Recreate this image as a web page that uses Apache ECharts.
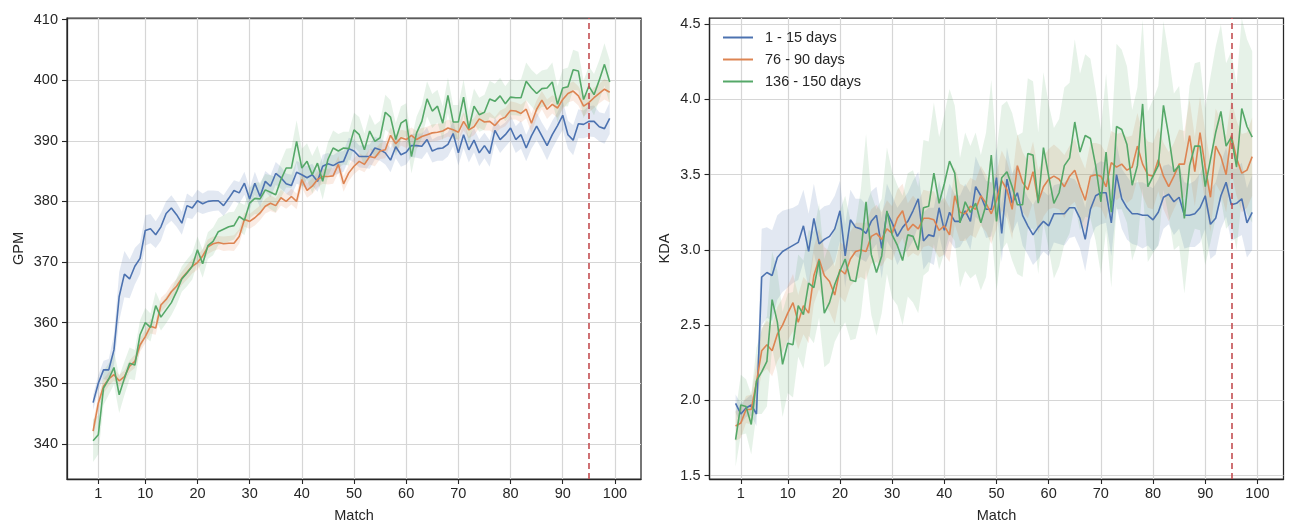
<!DOCTYPE html>
<html><head><meta charset="utf-8">
<script src="https://cdn.jsdelivr.net/npm/echarts@6/dist/echarts.min.js"></script>
<style>html,body{margin:0;padding:0;background:#fff}#c{width:1290px;height:521px}</style>
</head><body><div id="c"></div>
<script>
// ---------- data ----------
const seriesNames = ['1 - 15 days', '76 - 90 days', '136 - 150 days'];
const xTicks = [1, 10, 20, 30, 40, 50, 60, 70, 80, 90, 100];
const gpmTicks = [340, 350, 360, 370, 380, 390, 400, 410];
const kdaTicks = [1.5, 2.0, 2.5, 3.0, 3.5, 4.0, 4.5];
const cutoffMatch = 95;

const gpm_1_15 = [346.8,350.0,352.2,352.2,355.5,364.3,368.0,367.2,369.3,370.6,
375.2,375.5,374.5,375.8,378.0,378.9,377.8,376.4,379.3,378.9,
380.1,379.6,380.0,380.1,380.1,379.3,380.5,381.8,381.4,383.0,
380.4,383.0,380.8,383.3,382.5,384.6,383.9,382.9,382.6,384.8,
384.4,383.9,384.4,383.3,385.8,386.2,385.9,386.4,386.6,388.7,
388.3,387.4,387.4,387.4,388.8,388.5,388.0,386.8,389.0,387.7,
388.1,389.2,389.2,389.1,390.2,388.3,388.7,388.8,389.4,391.2,
388.0,391.0,388.5,390.1,388.0,389.2,387.9,391.7,390.2,391.0,
392.1,390.2,391.0,388.8,390.8,392.4,390.8,389.2,391.0,392.5,
394.2,391.0,390.1,392.8,392.7,393.2,393.2,392.3,392.0,393.7];
const gpm_76_90 = [342.1,346.7,349.5,350.7,351.4,350.4,351.1,352.8,353.6,356.3,
357.7,359.4,359.1,362.9,363.8,365.1,366.0,367.3,368.3,369.3,
369.9,371.0,372.5,373.0,373.2,373.0,373.1,373.1,374.2,377.0,
376.7,377.3,378.1,379.2,379.7,379.3,380.6,380.0,380.8,380.0,
383.6,381.8,382.5,383.6,384.1,384.1,384.2,386.1,382.9,384.7,
385.8,386.6,386.1,387.4,387.2,388.3,388.5,390.9,389.5,390.5,
390.2,390.9,390.2,390.7,391.0,391.3,391.4,391.6,392.1,391.8,
391.4,393.2,391.8,392.3,393.6,393.1,393.2,392.5,393.5,393.9,
395.0,394.9,394.5,395.2,392.9,395.2,396.7,395.2,396.0,395.4,
396.8,397.8,398.2,397.4,395.7,396.3,397.1,397.8,398.5,398.0];
const gpm_136_150 = [340.5,341.5,349.2,350.7,352.6,348.1,350.8,353.3,353.0,358.0,
360.0,359.2,362.8,360.9,362.1,363.3,365.1,367.2,368.2,369.3,
372.0,369.7,372.7,373.4,375.0,375.4,375.8,376.0,377.5,376.9,
379.7,380.5,380.4,381.9,381.5,381.1,383.6,385.5,385.5,389.9,
385.5,386.6,384.4,386.3,383.3,386.9,388.8,388.3,388.8,388.7,
391.8,391.0,388.5,391.6,389.9,390.5,394.7,393.9,390.2,392.9,
393.5,387.4,391.3,393.2,396.9,394.9,395.7,392.9,397.5,393.1,
393.1,397.2,392.0,395.7,394.3,394.7,396.9,396.5,397.4,396.1,
397.2,397.1,397.1,399.8,398.7,397.8,398.6,398.7,399.7,396.0,
398.7,398.9,401.7,401.5,396.8,399.0,397.6,400.0,402.6,399.7];

const gpmCi_1_15 = [1.2,1.3,1.5,1.8,2.5,4.0,3.8,3.2,3.0,2.6,
2.5,2.4,2.2,2.3,2.0,2.1,2.0,1.9,2.0,1.8,
1.8,1.7,1.8,1.7,1.6,1.7,1.8,1.7,1.8,1.9,
1.8,1.9,1.8,1.7,1.8,1.9,1.8,1.7,1.8,1.9,
1.8,1.9,1.8,1.7,1.9,1.8,1.7,1.8,1.7,1.8,
1.9,1.8,1.9,2.0,1.9,1.8,1.9,2.0,1.9,2.0,
2.0,1.9,2.0,2.1,2.0,1.9,2.0,2.1,2.0,2.1,
2.1,2.2,2.1,2.0,2.2,2.1,2.2,2.1,2.2,2.0,
2.1,2.2,2.3,2.2,2.1,2.3,2.2,2.4,2.3,2.2,
2.4,2.3,2.5,2.4,2.3,2.5,2.6,2.4,2.5,2.6];
const gpmCi_76_90 = [1.5,1.3,1.2,1.1,1.0,1.0,1.0,1.0,1.1,1.1,
1.1,1.2,1.1,1.2,1.1,1.2,1.2,1.1,1.2,1.2,
1.2,1.1,1.2,1.2,1.1,1.2,1.2,1.3,1.2,1.2,
1.2,1.3,1.2,1.2,1.3,1.2,1.3,1.2,1.3,1.3,
1.3,1.2,1.3,1.3,1.2,1.3,1.3,1.4,1.3,1.3,
1.3,1.4,1.3,1.3,1.4,1.3,1.4,1.3,1.4,1.3,
1.4,1.3,1.4,1.4,1.3,1.4,1.4,1.3,1.4,1.4,
1.4,1.5,1.4,1.4,1.5,1.4,1.5,1.4,1.5,1.5,
1.5,1.4,1.5,1.5,1.6,1.5,1.5,1.6,1.5,1.6,
1.6,1.5,1.6,1.6,1.7,1.6,1.7,1.6,1.7,1.7];
const gpmCi_136_150 = [3.5,3.2,2.8,2.6,2.8,3.0,2.8,2.6,2.5,2.4,
2.4,2.3,2.3,2.2,2.2,2.1,2.2,2.1,2.2,2.2,
2.2,2.3,2.2,2.3,2.2,2.3,2.4,2.3,2.4,2.5,
2.5,2.6,2.7,2.6,2.8,2.9,3.0,3.2,3.3,3.5,
3.2,3.0,3.1,2.9,3.0,2.8,2.9,2.8,2.7,2.8,
2.8,2.9,2.7,2.8,2.7,2.8,2.9,2.8,2.7,2.8,
2.7,2.8,2.7,2.8,2.9,2.8,2.7,2.8,2.9,2.8,
2.8,2.9,2.8,2.9,2.8,2.9,3.0,2.9,3.0,2.9,
3.0,2.9,3.0,3.1,3.0,3.1,3.0,3.1,3.2,3.0,
3.1,3.2,3.3,3.2,3.1,3.3,3.4,3.3,3.5,3.6];

const kda_1_15 = [1.98,1.91,1.95,1.97,1.91,2.82,2.85,2.83,2.95,2.99,
3.01,3.03,3.05,3.16,2.99,3.21,3.04,3.07,3.09,3.14,
3.26,2.96,3.20,3.15,3.14,3.11,3.19,3.23,3.01,3.25,
3.18,3.09,3.15,3.19,3.26,3.34,3.06,3.10,3.09,3.28,
3.13,3.25,3.19,3.19,3.26,3.19,3.42,3.36,3.27,3.27,
3.48,3.11,3.47,3.31,3.38,3.23,3.16,3.10,3.15,3.19,
3.16,3.24,3.24,3.24,3.28,3.28,3.21,3.07,3.27,3.36,
3.38,3.38,3.18,3.50,3.34,3.28,3.24,3.24,3.23,3.23,
3.20,3.25,3.35,3.37,3.32,3.35,3.23,3.23,3.24,3.28,
3.36,3.17,3.21,3.36,3.45,3.30,3.31,3.34,3.18,3.25];
const kda_76_90 = [1.83,1.85,1.94,1.94,2.12,2.33,2.37,2.33,2.44,2.50,
2.58,2.65,2.52,2.63,2.58,2.83,2.94,2.83,2.79,2.70,
2.87,2.84,2.94,2.99,3.00,2.99,3.09,3.11,3.07,3.14,
3.11,3.21,3.26,3.13,3.17,3.14,3.21,3.21,3.20,3.13,
3.16,3.10,3.36,3.25,3.24,3.29,3.27,3.36,3.31,3.24,
3.33,3.46,3.40,3.27,3.56,3.45,3.40,3.52,3.32,3.42,
3.47,3.49,3.47,3.42,3.49,3.53,3.42,3.33,3.49,3.50,
3.49,3.42,3.58,3.55,3.57,3.53,3.55,3.69,3.57,3.50,
3.49,3.60,3.49,3.42,3.49,3.57,3.57,3.76,3.52,3.78,
3.55,3.35,3.69,3.62,3.50,3.76,3.61,3.51,3.53,3.62];
const kda_136_150 = [1.74,1.97,1.96,1.84,2.13,2.19,2.26,2.67,2.52,2.24,
2.38,2.37,2.63,2.57,2.78,2.75,2.93,2.58,2.65,2.77,
2.86,2.94,2.80,2.79,2.98,3.32,2.97,2.85,2.96,3.26,
3.10,3.03,2.93,3.10,3.09,3.00,3.28,3.29,3.51,3.31,
3.44,3.59,3.51,3.18,3.32,3.25,3.31,3.18,3.30,3.63,
3.19,3.48,3.52,3.42,3.30,3.30,3.64,3.63,3.31,3.68,
3.49,3.31,3.38,3.56,3.61,3.85,3.65,3.76,3.74,3.56,
3.32,3.65,3.25,3.82,3.80,3.70,3.43,3.56,3.97,3.42,
3.49,3.56,3.96,3.76,3.52,3.56,3.21,3.56,3.69,3.69,
3.42,3.60,3.78,3.92,3.69,3.75,3.55,3.94,3.82,3.75];

const kdaCi_1_15 = [0.06,0.07,0.06,0.07,0.08,0.32,0.30,0.30,0.28,0.27,
0.26,0.25,0.25,0.24,0.25,0.23,0.22,0.22,0.21,0.22,
0.20,0.21,0.20,0.19,0.20,0.19,0.20,0.19,0.20,0.19,
0.18,0.19,0.18,0.19,0.20,0.18,0.19,0.18,0.19,0.18,
0.18,0.19,0.18,0.17,0.18,0.19,0.20,0.18,0.19,0.18,
0.20,0.19,0.21,0.20,0.19,0.20,0.19,0.20,0.21,0.20,
0.20,0.19,0.20,0.21,0.20,0.19,0.20,0.21,0.20,0.21,
0.21,0.20,0.22,0.21,0.20,0.21,0.20,0.21,0.22,0.20,
0.21,0.22,0.21,0.20,0.22,0.21,0.22,0.21,0.22,0.23,
0.22,0.23,0.24,0.22,0.23,0.24,0.23,0.24,0.23,0.25];
const kdaCi_76_90 = [0.10,0.10,0.09,0.10,0.12,0.15,0.16,0.17,0.18,0.18,
0.18,0.19,0.18,0.19,0.20,0.19,0.20,0.19,0.20,0.19,
0.18,0.19,0.18,0.19,0.18,0.19,0.18,0.19,0.18,0.19,
0.18,0.19,0.18,0.18,0.19,0.18,0.19,0.18,0.19,0.18,
0.19,0.18,0.19,0.19,0.18,0.19,0.19,0.20,0.19,0.20,
0.19,0.20,0.19,0.20,0.21,0.20,0.19,0.20,0.21,0.20,
0.20,0.21,0.20,0.21,0.20,0.21,0.20,0.21,0.22,0.21,
0.21,0.22,0.21,0.22,0.21,0.22,0.21,0.22,0.21,0.22,
0.22,0.21,0.22,0.23,0.22,0.23,0.22,0.24,0.23,0.24,
0.24,0.23,0.25,0.24,0.25,0.24,0.25,0.26,0.25,0.26];
const kdaCi_136_150 = [0.18,0.20,0.18,0.20,0.22,0.28,0.30,0.32,0.34,0.35,
0.33,0.35,0.34,0.36,0.35,0.37,0.38,0.36,0.40,0.38,
0.40,0.42,0.40,0.38,0.42,0.45,0.40,0.42,0.38,0.42,
0.42,0.40,0.43,0.41,0.44,0.42,0.45,0.43,0.47,0.44,
0.46,0.48,0.45,0.43,0.46,0.44,0.47,0.45,0.48,0.50,
0.46,0.48,0.47,0.49,0.46,0.48,0.50,0.49,0.47,0.50,
0.48,0.50,0.49,0.52,0.50,0.55,0.52,0.54,0.53,0.50,
0.48,0.52,0.50,0.55,0.53,0.52,0.50,0.52,0.56,0.50,
0.51,0.53,0.56,0.54,0.52,0.53,0.50,0.53,0.55,0.56,
0.52,0.55,0.57,0.58,0.55,0.57,0.55,0.60,0.58,0.57];

const matches = gpm_1_15.map((_, i) => i);

// ---------- chart ----------
const colors = ['#4c72b0', '#dd8452', '#55a868'];
const bandColors = ['rgba(76,114,176,0.16)', 'rgba(221,132,82,0.16)', 'rgba(85,168,104,0.15)'];
const FONT = '"Liberation Sans", Arial, sans-serif';
const FS = 14.5;
const ink = '#262626';

function bandSeries(idx, mean, ci, color) {
  return {
    type: 'custom', xAxisIndex: idx, yAxisIndex: idx, silent: true, z: 1,
    data: [[matches[0], mean[0]]],
    renderItem: function (params, api) {
      const pts = [];
      for (let i = 0; i < mean.length; i++) pts.push(api.coord([matches[i], mean[i] + ci[i]]));
      for (let i = mean.length - 1; i >= 0; i--) pts.push(api.coord([matches[i], mean[i] - ci[i]]));
      return { type: 'polygon', shape: { points: pts }, style: { fill: color } };
    }
  };
}
function lineSeries(idx, name, mean, color, withCut) {
  const s = {
    type: 'line', name: name, xAxisIndex: idx, yAxisIndex: idx, z: 3,
    data: mean.map((v, i) => [matches[i], v]), symbol: 'none', showSymbol: false,
    lineStyle: { color: color, width: 1.6 }, itemStyle: { color: color }, animation: false
  };
  if (withCut) {
    s.markLine = {
      silent: true, symbol: 'none', label: { show: false }, animation: false,
      lineStyle: { color: '#c44e52', type: [6, 4], width: 1.6 },
      data: [{ xAxis: cutoffMatch }]
    };
  }
  return s;
}
function xAxis(idx) {
  return {
    gridIndex: idx, type: 'value', min: -5, max: 105,
    name: 'Match', nameLocation: 'middle', nameGap: 29,
    nameTextStyle: { color: ink, fontSize: FS, fontFamily: FONT },
    axisLine: { show: true, onZero: false, lineStyle: { color: ink, width: 1.25 } },
    axisTick: { show: true, length: 5, customValues: xTicks, lineStyle: { color: ink, width: 1.1 } },
    axisLabel: { customValues: xTicks, margin: 7, color: ink, fontSize: FS, fontFamily: FONT },
    splitLine: { show: true, lineStyle: { color: '#d6d6d6', width: 1.2 } }
  };
}
function yAxis(idx, name, min, max, ticks, fmt, gap) {
  return {
    gridIndex: idx, type: 'value', min: min, max: max,
    name: name, nameLocation: 'middle', nameGap: gap, nameRotate: 90,
    nameTextStyle: { color: ink, fontSize: FS, fontFamily: FONT },
    axisLine: { show: true, onZero: false, lineStyle: { color: ink, width: 1.25 } },
    axisTick: { show: true, length: 5, customValues: ticks, lineStyle: { color: ink, width: 1.1 } },
    axisLabel: { customValues: ticks, margin: 9, color: ink, fontSize: FS, fontFamily: FONT, formatter: fmt },
    splitLine: { show: true, lineStyle: { color: '#d6d6d6', width: 1.2 } }
  };
}

const gpmSets = [[gpm_1_15, gpmCi_1_15], [gpm_76_90, gpmCi_76_90], [gpm_136_150, gpmCi_136_150]];
const kdaSets = [[kda_1_15, kdaCi_1_15], [kda_76_90, kdaCi_76_90], [kda_136_150, kdaCi_136_150]];
const series = [];
gpmSets.forEach((s, k) => series.push(bandSeries(0, s[0], s[1], bandColors[k])));
kdaSets.forEach((s, k) => series.push(bandSeries(1, s[0], s[1], bandColors[k])));
gpmSets.forEach((s, k) => series.push(lineSeries(0, seriesNames[k], s[0], colors[k], k === 0)));
kdaSets.forEach((s, k) => series.push(lineSeries(1, seriesNames[k], s[0], colors[k], k === 0)));

const chart = echarts.init(document.getElementById('c'), null, { renderer: 'canvas' });
chart.setOption({
  backgroundColor: '#ffffff',
  animation: false,
  grid: [
    { left: 67, top: 18, width: 574, height: 461, show: true, borderColor: ink, borderWidth: 1.25, backgroundColor: 'transparent', containLabel: false, outerBoundsMode: 'none' },
    { left: 709.5, top: 18, width: 574, height: 461, show: true, borderColor: ink, borderWidth: 1.25, backgroundColor: 'transparent', containLabel: false, outerBoundsMode: 'none' }
  ],
  xAxis: [xAxis(0), xAxis(1)],
  yAxis: [
    yAxis(0, 'GPM', 334.2, 410.25, gpmTicks, v => String(v), 41),
    yAxis(1, 'KDA', 1.478, 4.541, kdaTicks, v => Number(v).toFixed(1), 37)
  ],
  legend: {
    data: seriesNames, orient: 'vertical', left: 718, top: 25,
    icon: 'rect', itemWidth: 30, itemHeight: 2, itemGap: 7,
    textStyle: { color: ink, fontSize: FS, fontFamily: FONT, padding: [0, 0, 0, 7] },
    backgroundColor: 'transparent', borderWidth: 0
  },
  series: series
});
</script>
</body></html>
